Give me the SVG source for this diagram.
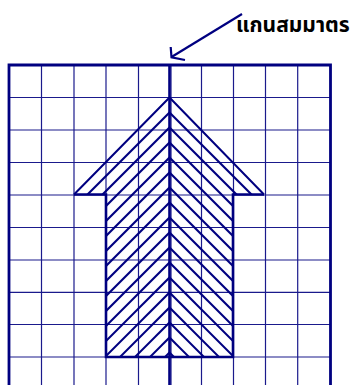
<svg xmlns="http://www.w3.org/2000/svg" width="350" height="385" viewBox="0 0 350 385">
<style>
.grid line{stroke:#1a1a8c;stroke-width:1.2}
.border{stroke:#000080;stroke-width:2.8;fill:none}
.hatch line{stroke:#000080;stroke-width:2}
.outline{stroke:#000080;stroke-width:2.6;fill:none;stroke-linejoin:miter}
.edge{stroke:#000080;stroke-width:2;fill:none}
.label{font-family:"Noto Sans Thai","Loma","Tahoma","DejaVu Sans",sans-serif;font-weight:bold;font-size:21px;fill:#000}
</style>
<defs>
<clipPath id="clipL"><polygon points="169.5,97.5 74,194.5 106,194.5 106,357 169.5,357"/></clipPath>
<clipPath id="clipR"><polygon points="169.5,97.5 264,194.5 233,194.5 233,357 169.5,357"/></clipPath>
</defs>
<rect width="350" height="385" fill="#fff"/>
<g id="grid" class="grid">
<line x1="41.5" y1="65" x2="41.5" y2="385"/>
<line x1="74" y1="65" x2="74" y2="385"/>
<line x1="106" y1="65" x2="106" y2="385"/>
<line x1="138.5" y1="65" x2="138.5" y2="385"/>
<line x1="171" y1="65" x2="171" y2="385"/>
<line x1="201.5" y1="65" x2="201.5" y2="385"/>
<line x1="233.5" y1="65" x2="233.5" y2="385"/>
<line x1="265.5" y1="65" x2="265.5" y2="385"/>
<line x1="297.7" y1="65" x2="297.7" y2="385"/>
<line x1="9" y1="97.5" x2="330" y2="97.5"/>
<line x1="9" y1="130" x2="330" y2="130"/>
<line x1="9" y1="162.5" x2="330" y2="162.5"/>
<line x1="9" y1="195" x2="330" y2="195"/>
<line x1="9" y1="227.5" x2="330" y2="227.5"/>
<line x1="9" y1="260" x2="330" y2="260"/>
<line x1="9" y1="292.3" x2="330" y2="292.3"/>
<line x1="9" y1="324.5" x2="330" y2="324.5"/>
<line x1="9" y1="357" x2="330" y2="357"/>
</g>
<g id="frame">
<path class="border" d="M9,385 V65 H330.5 V385"/>
</g>
<g id="arrow-shape">
<g class="hatch" clip-path="url(#clipL)">
<line x1="-118" y1="400" x2="282" y2="0"/>
<line x1="-103" y1="400" x2="297" y2="0"/>
<line x1="-88" y1="400" x2="312" y2="0"/>
<line x1="-73" y1="400" x2="327" y2="0"/>
<line x1="-58" y1="400" x2="342" y2="0"/>
<line x1="-43" y1="400" x2="357" y2="0"/>
<line x1="-28" y1="400" x2="372" y2="0"/>
<line x1="-13" y1="400" x2="387" y2="0"/>
<line x1="2" y1="400" x2="402" y2="0"/>
<line x1="17" y1="400" x2="417" y2="0"/>
<line x1="32" y1="400" x2="432" y2="0"/>
<line x1="47" y1="400" x2="447" y2="0"/>
<line x1="62" y1="400" x2="462" y2="0"/>
<line x1="77" y1="400" x2="477" y2="0"/>
<line x1="92" y1="400" x2="492" y2="0"/>
<line x1="107" y1="400" x2="507" y2="0"/>
<line x1="122" y1="400" x2="522" y2="0"/>
</g>
<g class="hatch" clip-path="url(#clipR)">
<line x1="57" y1="0" x2="457" y2="400"/>
<line x1="42" y1="0" x2="442" y2="400"/>
<line x1="27" y1="0" x2="427" y2="400"/>
<line x1="12" y1="0" x2="412" y2="400"/>
<line x1="-3" y1="0" x2="397" y2="400"/>
<line x1="-18" y1="0" x2="382" y2="400"/>
<line x1="-33" y1="0" x2="367" y2="400"/>
<line x1="-48" y1="0" x2="352" y2="400"/>
<line x1="-63" y1="0" x2="337" y2="400"/>
<line x1="-78" y1="0" x2="322" y2="400"/>
<line x1="-93" y1="0" x2="307" y2="400"/>
<line x1="-108" y1="0" x2="292" y2="400"/>
<line x1="-123" y1="0" x2="277" y2="400"/>
<line x1="-138" y1="0" x2="262" y2="400"/>
<line x1="-153" y1="0" x2="247" y2="400"/>
<line x1="-168" y1="0" x2="232" y2="400"/>
<line x1="-183" y1="0" x2="217" y2="400"/>
</g>
<path class="edge" d="M74,194.5 L169.5,97.5 L264,194.5"/>
<path class="outline" d="M74,194.5 H106 V357 H233 V194.5 H264"/>
</g>
<g id="axis">
<line x1="169.5" y1="65" x2="169.5" y2="385" stroke="#000080" stroke-width="2.6"/>
</g>
<g id="connectors">
<line x1="242" y1="14" x2="171.5" y2="57" stroke="#000080" stroke-width="2.2"/>
<polyline points="170.7,47 171.5,57.3 185,60" fill="none" stroke="#000080" stroke-width="2.2"/>
</g>
<g id="label">
<text class="label" x="236" y="31.5">แกนสมมาตร</text>
</g>
</svg>
